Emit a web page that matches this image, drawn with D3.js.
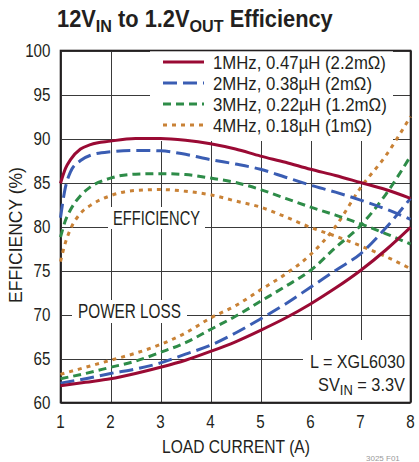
<!DOCTYPE html>
<html>
<head>
<meta charset="utf-8">
<script src="https://cdn.jsdelivr.net/npm/d3@7"></script>
<style>
  html, body { margin: 0; padding: 0; background: #fff; }
  svg { display: block; }
  text { font-family: "Liberation Sans", Arial, sans-serif; fill: #231f20; }
</style>
</head>
<body>
<svg id="chart" width="419" height="462"></svg>
<script>
// ---- data ----
const xTicks = [1, 2, 3, 4, 5, 6, 7, 8];
const yTicks = [60, 65, 70, 75, 80, 85, 90, 95, 100];

const seriesNames = ["1MHz, 0.47µH (2.2mΩ)", "2MHz, 0.38µH (2mΩ)", "3MHz, 0.22µH (1.2mΩ)", "4MHz, 0.18µH (1mΩ)"];

const effCurrent = [1, 1.1, 1.2, 1.4, 1.6, 2, 2.5, 3, 3.5, 4, 4.5, 5, 5.5, 6, 6.5, 7, 7.5, 8];
const eff1MHz = [84.9, 86.6, 87.6, 88.8, 89.3, 89.7, 90.0, 90.0, 89.8, 89.4, 88.8, 88.0, 87.3, 86.5, 85.8, 85.0, 84.2, 83.2];
const eff2MHz = [81.0, 84.5, 86.2, 87.5, 88.1, 88.5, 88.65, 88.6, 88.2, 87.6, 87.1, 86.5, 85.6, 84.7, 83.9, 83.0, 82.0, 80.8];
const eff3MHz = [78.8, 80.7, 81.9, 83.5, 84.5, 85.5, 85.95, 86.0, 85.9, 85.5, 85.0, 84.2, 83.2, 82.2, 81.3, 80.3, 79.2, 78.0];
const eff4MHz = [76.0, 78.2, 79.7, 81.5, 82.4, 83.5, 84.1, 84.2, 84.0, 83.6, 82.9, 82.2, 81.1, 79.9, 78.9, 77.8, 76.6, 75.2];

const lossCurrent = [1, 1.5, 2, 2.5, 3, 3.5, 4, 4.5, 5, 5.5, 6, 6.5, 7, 7.5, 8];
const loss1MHz = [61.9, 62.3, 62.7, 63.3, 64.0, 64.8, 65.8, 66.9, 68.2, 69.6, 71.2, 73.0, 75.0, 77.3, 79.9];
const loss2MHz = [62.2, 62.7, 63.3, 63.8, 64.5, 65.5, 66.5, 67.9, 69.5, 71.2, 73.1, 75.0, 76.9, 79.8, 83.2];
const loss3MHz = [62.7, 63.3, 64.0, 64.7, 65.7, 66.8, 68.3, 69.8, 71.5, 73.2, 75.0, 77.6, 80.1, 83.6, 88.0];
const loss4MHz = [63.2, 64.0, 64.8, 65.6, 66.6, 67.9, 69.6, 71.0, 72.8, 74.6, 76.8, 80.0, 84.4, 88.0, 92.5];

// ---- styles ----
const colors = ["#9a0a34", "#3a5db3", "#2e8c48", "#c98236"];
const dashes = [null, "14,6", "8,5", "4,5"];

const svg = d3.select("#chart");
const M = { left: 60.5, right: 410.5, top: 50.5, bottom: 402.5 };
const x = d3.scaleLinear().domain([1, 8]).range([M.left, M.right]);
const y = d3.scaleLinear().domain([60, 100]).range([M.bottom, M.top]);

// condense a text horizontally (reference uses a condensed face)
function condense(sel, width) {
  sel.each(function () {
    const el = d3.select(this);
    const w = this.getComputedTextLength();
    const sx = width ? width / w : 0.86;
    const ax = +el.attr("x"), ay = +el.attr("y");
    const prev = el.attr("transform") || "";
    el.attr("transform", `translate(${ax},${ay}) scale(${sx},1) translate(${-ax},${-ay}) ${prev}`);
  });
  return sel;
}

// grid
const g = svg.append("g");
g.selectAll("line.h").data(yTicks).join("line")
  .attr("x1", M.left).attr("x2", M.right)
  .attr("y1", d => Math.round(y(d)) + 0.5).attr("y2", d => Math.round(y(d)) + 0.5)
  .attr("stroke", "#3a3a3a").attr("stroke-width", 1);
g.selectAll("line.v").data(xTicks).join("line")
  .attr("y1", M.top).attr("y2", M.bottom)
  .attr("x1", d => Math.round(x(d)) + 0.5).attr("x2", d => Math.round(x(d)) + 0.5)
  .attr("stroke", "#3a3a3a").attr("stroke-width", 1);

// white boxes
const boxes = [
  [150, 51, 243, 90],   // legend
  [108, 207, 97, 22],   // EFFICIENCY
  [72, 300, 115, 23],   // POWER LOSS
  [303, 340, 107, 62]   // L = ...
];
svg.selectAll("rect.bg").data(boxes).join("rect")
  .attr("x", d => d[0]).attr("y", d => d[1]).attr("width", d => d[2]).attr("height", d => d[3])
  .attr("fill", "#fff");

// frame
svg.append("rect").attr("x", M.left).attr("y", M.top)
  .attr("width", M.right - M.left).attr("height", M.bottom - M.top)
  .attr("fill", "none").attr("stroke", "#231f20").attr("stroke-width", 1.6);

// curves
const line = d3.line().x(d => x(d[0])).y(d => y(d[1])).curve(d3.curveMonotoneX);
const effSets = [eff1MHz, eff2MHz, eff3MHz, eff4MHz];
const lossSets = [loss1MHz, loss2MHz, loss3MHz, loss4MHz];
const curves = svg.append("g");
[3, 2, 1, 0].forEach(i => {
  curves.append("path").datum(effCurrent.map((c, k) => [c, effSets[i][k]]))
    .attr("d", line).attr("fill", "none").attr("stroke", colors[i])
    .attr("stroke-width", 3).attr("stroke-dasharray", dashes[i]);
  curves.append("path").datum(lossCurrent.map((c, k) => [c, lossSets[i][k]]))
    .attr("d", line).attr("fill", "none").attr("stroke", colors[i])
    .attr("stroke-width", 3).attr("stroke-dasharray", dashes[i]);
});

// axis tick labels
const tickSx = 0.82;
svg.selectAll("text.yt").data(yTicks).join("text").attr("class", "yt")
  .attr("x", 50.5).attr("y", d => y(d) + 6.5)
  .attr("text-anchor", "end").attr("font-size", 18.5).text(d => d)
  .attr("transform", function () { const ax = +d3.select(this).attr("x"); return `translate(${ax},0) scale(${tickSx},1) translate(${-ax},0)`; });
svg.selectAll("text.xt").data(xTicks).join("text").attr("class", "xt")
  .attr("x", d => x(d)).attr("y", 428)
  .attr("text-anchor", "middle").attr("font-size", 18.5).text(d => d)
  .attr("transform", function () { const ax = +d3.select(this).attr("x"); return `translate(${ax},0) scale(${tickSx},1) translate(${-ax},0)`; });

// axis titles
condense(svg.append("text").attr("x", 236).attr("y", 453).attr("text-anchor", "middle")
  .attr("font-size", 18).text("LOAD CURRENT (A)"), 148);
const yt = svg.append("text").attr("x", 0).attr("y", 0).attr("text-anchor", "middle")
  .attr("font-size", 18).text("EFFICIENCY (%)");
condense(yt, 136);
yt.attr("transform", "translate(22,235) rotate(-90) " + yt.attr("transform"));

// title
const t = svg.append("text").attr("x", 57).attr("y", 27).attr("font-size", 23).attr("font-weight", "bold");
t.append("tspan").text("12V");
t.append("tspan").attr("font-size", 17).attr("dy", 5).text("IN");
t.append("tspan").attr("dy", -5).text(" to 1.2V");
t.append("tspan").attr("font-size", 17).attr("dy", 5).text("OUT");
t.append("tspan").attr("dy", -5).text(" Efficiency");
condense(t, 276);

// legend
const legWidths = [173, 159, 174, 159];
const leg = svg.append("g");
seriesNames.forEach((name, i) => {
  const ly = 62 + i * 21;
  leg.append("line").attr("x1", 163).attr("x2", 204).attr("y1", ly).attr("y2", ly)
    .attr("stroke", colors[i]).attr("stroke-width", 3).attr("stroke-dasharray", dashes[i]);
  condense(leg.append("text").attr("x", 213).attr("y", ly + 7).attr("font-size", 19).text(name), legWidths[i]);
});

// annotations
condense(svg.append("text").attr("x", 156.5).attr("y", 225).attr("text-anchor", "middle").attr("font-size", 20).text("EFFICIENCY"), 87);
condense(svg.append("text").attr("x", 129.5).attr("y", 318).attr("text-anchor", "middle").attr("font-size", 20).text("POWER LOSS"), 103);
condense(svg.append("text").attr("x", 405).attr("y", 368).attr("text-anchor", "end").attr("font-size", 19).text("L = XGL6030"), 95);
const sv = svg.append("text").attr("x", 405).attr("y", 391).attr("text-anchor", "end").attr("font-size", 19);
sv.append("tspan").text("SV");
sv.append("tspan").attr("font-size", 15).attr("dy", 4).text("IN");
sv.append("tspan").attr("dy", -4).text(" = 3.3V");
condense(sv, 87);

// figure code
svg.append("text").attr("x", 366).attr("y", 461).attr("font-size", 8).style("fill", "#999").text("3025 F01");
</script>
</body>
</html>
